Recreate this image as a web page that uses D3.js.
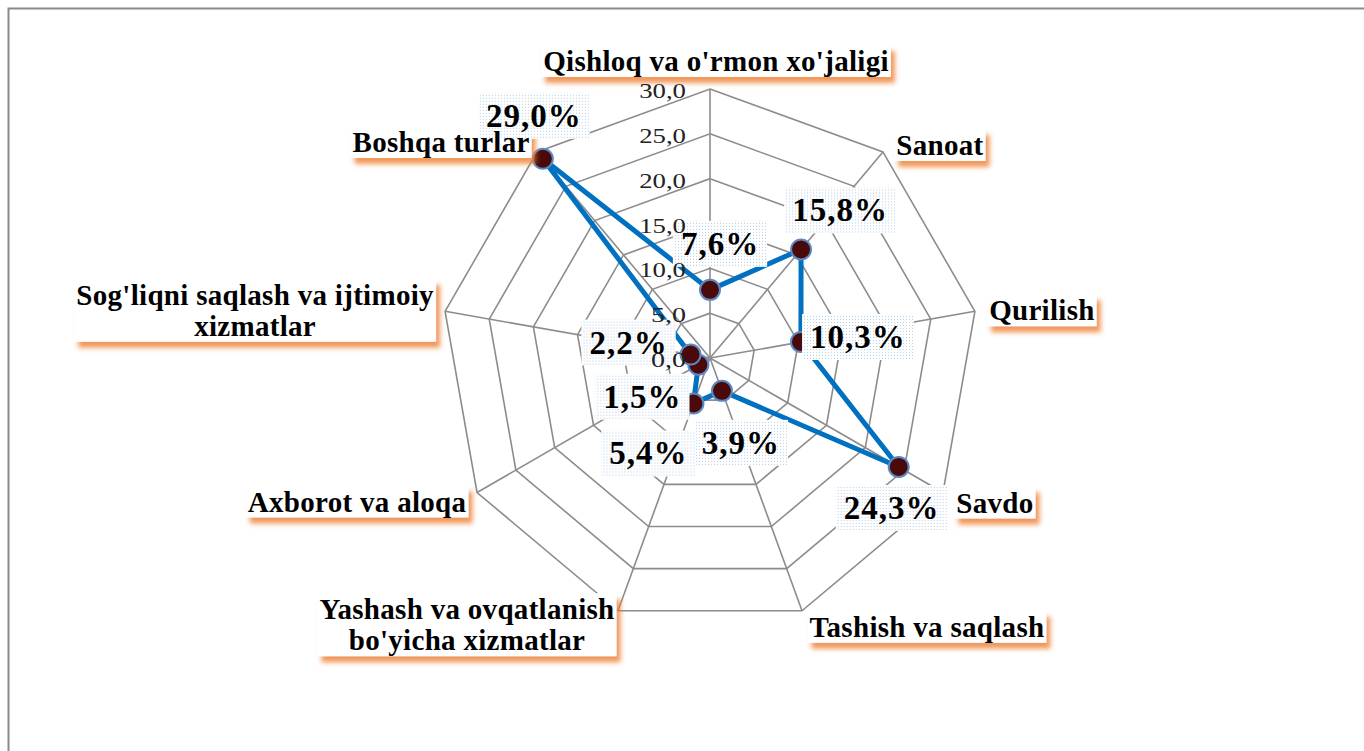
<!DOCTYPE html>
<html>
<head>
<meta charset="utf-8">
<script src="https://cdn.jsdelivr.net/npm/d3@7"></script>
<style>
  body { margin: 0; background: #fff; }
  text { font-family: "Liberation Serif", "Times New Roman", serif; }
</style>
</head>
<body>
<div id="chart"></div>
<script>
// categories (multi-line labels are split into lines)
var categories = [
  ["Qishloq va o'rmon xo'jaligi"],
  ["Sanoat"],
  ["Qurilish"],
  ["Savdo"],
  ["Tashish va saqlash"],
  ["Yashash va ovqatlanish", "bo'yicha xizmatlar"],
  ["Axborot va aloqa"],
  ["Sog'liqni saqlash va ijtimoiy", "xizmatlar"],
  ["Boshqa turlar"]
];
var values = [7.6, 15.8, 10.3, 24.3, 3.9, 5.4, 1.5, 2.2, 29.0];
var valueLabels = ["7,6%", "15,8%", "10,3%", "24,3%", "3,9%", "5,4%", "1,5%", "2,2%", "29,0%"];
var ticks = [0, 5, 10, 15, 20, 25, 30];
var tickLabels = ["0,0", "5,0", "10,0", "15,0", "20,0", "25,0", "30,0"];

// label nudges, px from the outer vertex / from the point (label centre)
var catNudge = [[6, -28], [57, -7], [67, -1], [52, 10], [125, 16], [-151, 14], [-120, 9], [-190, -1], [-96, -10]];
var valNudge = [[10, -46], [39, -39], [57, -5], [-7, 41], [19, 52], [-45, 50], [-56, 32], [-62, -12], [-9, -43]];

var width = 1364, height = 751;
var cx = 710, cy = 358, radius = 269;

var svg = d3.select("#chart").append("svg")
  .attr("width", width)
  .attr("height", height);

var defs = svg.append("defs");
var shadow = defs.append("filter")
  .attr("id", "orangeShadow")
  .attr("x", "-20%").attr("y", "-40%")
  .attr("width", "140%").attr("height", "200%");
shadow.append("feDropShadow")
  .attr("dx", 4).attr("dy", 6)
  .attr("stdDeviation", 2.5)
  .attr("flood-color", "#ED7D31")
  .attr("flood-opacity", 0.8);

var dots = defs.append("pattern")
  .attr("id", "dots")
  .attr("width", 3).attr("height", 3)
  .attr("patternUnits", "userSpaceOnUse");
dots.append("rect").attr("width", 3).attr("height", 3).attr("fill", "#fff");
dots.append("rect").attr("width", 1).attr("height", 1).attr("fill", "#B4CDE8");

// chart frame
svg.append("rect")
  .attr("x", 8.5).attr("y", 8.5)
  .attr("width", width).attr("height", height)
  .attr("fill", "none")
  .attr("stroke", "#8a8a8a")
  .attr("stroke-width", 2);

var r = d3.scaleLinear().domain([0, 30]).range([0, radius]);
var n = categories.length;
var angle = function(i) { return i * 2 * Math.PI / n; };
function pos(i, v) {
  return [cx + r(v) * Math.sin(angle(i)), cy - r(v) * Math.cos(angle(i))];
}

var plot = svg.append("g");
var catBoxLayer = svg.append("g");
var valLayer = svg.append("g");
var catTextLayer = svg.append("g");
var tickLayer = svg.append("g");

// rings
var ringLine = d3.lineRadial()
  .angle(function(d, i) { return angle(i); })
  .radius(function(d) { return r(d); })
  .curve(d3.curveLinearClosed);

plot.selectAll(".ring")
  .data(ticks.filter(function(t) { return t > 0; }))
  .enter().append("path")
  .attr("class", "ring")
  .attr("transform", "translate(" + cx + "," + cy + ")")
  .attr("d", function(t) { return ringLine(d3.range(n).map(function() { return t; })); })
  .attr("fill", "none")
  .attr("stroke", "#8c8c8c")
  .attr("stroke-width", 1.6);

// spokes
plot.selectAll(".spoke")
  .data(d3.range(n))
  .enter().append("line")
  .attr("class", "spoke")
  .attr("x1", cx).attr("y1", cy)
  .attr("x2", function(i) { return pos(i, 30)[0]; })
  .attr("y2", function(i) { return pos(i, 30)[1]; })
  .attr("stroke", "#8c8c8c")
  .attr("stroke-width", 1.6);

// series line
plot.append("path")
  .attr("transform", "translate(" + cx + "," + cy + ")")
  .attr("d", ringLine(values))
  .attr("fill", "none")
  .attr("stroke", "#0070C0")
  .attr("stroke-width", 5)
  .attr("stroke-linejoin", "round");

// points
plot.selectAll(".pt")
  .data(values)
  .enter().append("circle")
  .attr("class", "pt")
  .attr("cx", function(v, i) { return pos(i, v)[0]; })
  .attr("cy", function(v, i) { return pos(i, v)[1]; })
  .attr("r", 10)
  .attr("fill", "#4B0A0A")
  .attr("stroke", "#5A8AC6")
  .attr("stroke-width", 2);

// category labels: text first (to measure), boxes go in a lower layer
function catTranslate(d, i) {
  var p = pos(i, 30);
  return "translate(" + (p[0] + catNudge[i][0]) + "," + (p[1] + catNudge[i][1]) + ")";
}

var ct = catTextLayer.selectAll(".clabel")
  .data(categories)
  .enter().append("text")
  .attr("class", "clabel")
  .attr("transform", catTranslate)
  .attr("text-anchor", "middle")
  .attr("font-size", 29)
  .attr("font-weight", "bold")
  .attr("letter-spacing", 0.3)
  .attr("fill", "#000")
  .each(function(d) {
    var t = d3.select(this);
    var lh = 31;
    var top = -(d.length - 1) * lh / 2;
    d.forEach(function(line, k) {
      t.append("tspan")
        .attr("x", 0)
        .attr("y", top + k * lh + 10)
        .text(line);
    });
  });

var catBoxes = [];
ct.each(function() { catBoxes.push(this.getBBox()); });

catBoxLayer.selectAll("rect")
  .data(categories)
  .enter().append("rect")
  .attr("transform", catTranslate)
  .attr("x", function(d, i) { return catBoxes[i].x - 2; })
  .attr("y", function(d, i) { return catBoxes[i].y; })
  .attr("width", function(d, i) { return catBoxes[i].width + 4; })
  .attr("height", function(d, i) { return catBoxes[i].height; })
  .attr("fill", "#fff")
  .attr("filter", "url(#orangeShadow)");

// value labels
var vl = valLayer.selectAll(".vlabel")
  .data(values)
  .enter().append("g")
  .attr("class", "vlabel")
  .attr("transform", function(v, i) {
    var p = pos(i, v);
    return "translate(" + (p[0] + valNudge[i][0]) + "," + (p[1] + valNudge[i][1]) + ")";
  });

vl.append("rect");
vl.append("text")
  .attr("text-anchor", "middle")
  .attr("y", 11)
  .attr("font-size", 33)
  .attr("font-weight", "bold")
  .attr("letter-spacing", 1)
  .attr("fill", "#000")
  .text(function(v, i) { return valueLabels[i]; });

vl.each(function() {
  var g = d3.select(this);
  var b = g.select("text").node().getBBox();
  g.select("rect")
    .attr("x", b.x - 8).attr("y", -23)
    .attr("width", b.width + 16).attr("height", 46)
    .attr("fill", "url(#dots)");
});

// tick labels on top
tickLayer.selectAll(".tick")
  .data(ticks)
  .enter().append("text")
  .attr("class", "tick")
  .attr("x", cx - 24)
  .attr("y", function(t) { return cy - r(t) + 9; })
  .attr("text-anchor", "end")
  .attr("font-size", 21)
  .attr("textLength", function(t, i) { return tickLabels[i].length * 11.7; })
  .attr("lengthAdjust", "spacingAndGlyphs")
  .attr("fill", "#222")
  .text(function(t, i) { return tickLabels[i]; });
</script>
</body>
</html>
